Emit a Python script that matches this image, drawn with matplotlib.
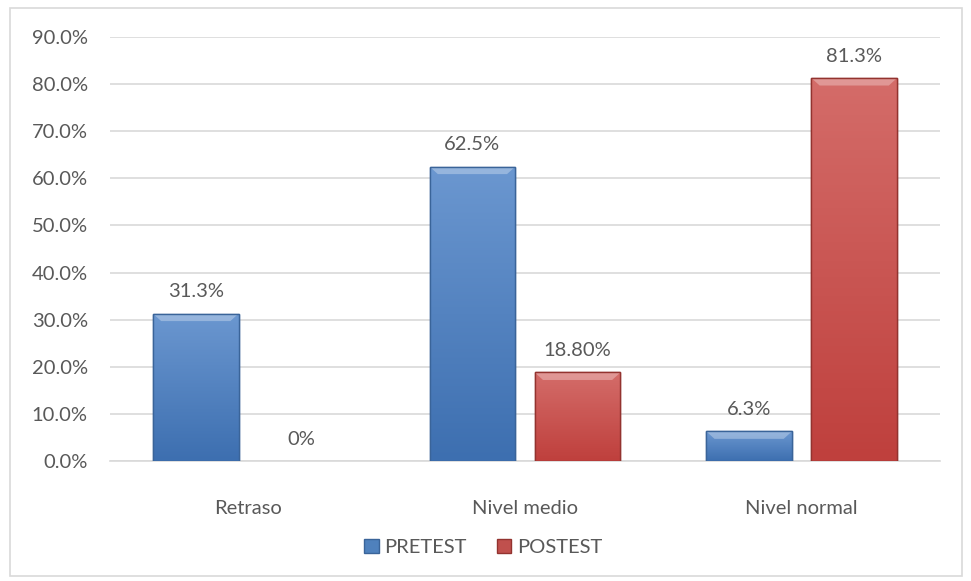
import numpy as np
import matplotlib.pyplot as plt
from matplotlib.colors import LinearSegmentedColormap
from matplotlib.patches import Rectangle

plt.rcParams['font.family'] = ['Lato', 'DejaVu Sans']

categories = ['Retraso', 'Nivel medio', 'Nivel normal']
pretest = [31.3, 62.5, 6.3]
postest = [0.0, 18.8, 81.3]
pretest_labels = ['31.3%', '62.5%', '6.3%']
postest_labels = ['0%', '18.80%', '81.3%']
yticks = np.arange(0, 91, 10)

text_col = '#595959'
grid_col = '#D9D9D9'
fs = 14.5

fig = plt.figure(figsize=(9.71, 5.81), dpi=100)
fig.patches.append(Rectangle((10 / 971, 5 / 581), 952 / 971, 568 / 581, transform=fig.transFigure,
                             fill=False, edgecolor='#D9D9D9', linewidth=1.2))
ax = fig.add_axes([110 / 971, 1 - 461 / 581, 830 / 971, 424 / 581])

x = np.arange(len(categories))
w = 0.31
off = 0.19


def shaded(bars, top, bottom, edge):
    cmap = LinearSegmentedColormap.from_list('g', [bottom, top])
    for b in bars:
        b.set_edgecolor(edge)
        b.set_linewidth(1.0)
        h = b.get_height()
        if h <= 0:
            b.set_linewidth(0)
            continue
        x0 = b.get_x()
        bw = b.get_width()
        grad = np.linspace(0, 1, 100).reshape(-1, 1)
        im = ax.imshow(grad, extent=(x0, x0 + bw, 0, h), origin='lower', cmap=cmap,
                       aspect='auto', zorder=b.get_zorder() + 0.1)
        im.set_clip_path(b)
        # bevel highlight on top edge
        bev = 1.6
        ax.fill([x0, x0 + bw, x0 + bw - 0.03, x0 + 0.03], [h, h, h - bev, h - bev],
                color='white', alpha=0.3, lw=0, zorder=b.get_zorder() + 0.2)
        ax.bar(x0 + bw / 2, h, bw, fill=False, edgecolor=edge, linewidth=1.0,
               zorder=b.get_zorder() + 0.3)


b1 = ax.bar(x - off, pretest, w, color='#4F81BD', label='PRETEST', zorder=3)
b2 = ax.bar(x + off, postest, w, color='#C0504D', label='POSTEST', zorder=3)
shaded(b1, '#6B97D0', '#3D6FB0', '#3A6499')
shaded(b2, '#D46C69', '#BF403D', '#93332F')

for xi, v, t in zip(x - off, pretest, pretest_labels):
    ax.text(xi, v + 2.8, t, ha='center', va='bottom', fontsize=fs, color=text_col)
for xi, v, t in zip(x + off, postest, postest_labels):
    ax.text(xi, v + 2.8, t, ha='center', va='bottom', fontsize=fs, color=text_col)

ax.set_xlim(-0.5, 2.5)
ax.set_ylim(0, 90)
ax.set_yticks(yticks)
ax.set_yticklabels(['%.1f%%' % v for v in yticks])
ax.set_xticks(x)
ax.set_xticklabels(categories)
ax.tick_params(axis='both', length=0, labelsize=fs, colors=text_col)
ax.tick_params(axis='y', pad=16)
ax.tick_params(axis='x', pad=28)
ax.yaxis.grid(True, color=grid_col, linewidth=1.2)
ax.set_axisbelow(True)
for s in ['top', 'right', 'left']:
    ax.spines[s].set_visible(False)
ax.spines['bottom'].set_color(grid_col)
ax.spines['bottom'].set_linewidth(1.2)

handles = [Rectangle((0, 0), 1, 1, facecolor='#4F81BD', edgecolor='#3A6499'),
           Rectangle((0, 0), 1, 1, facecolor='#C0504D', edgecolor='#93332F')]
leg = ax.legend(handles=handles, labels=['PRETEST', 'POSTEST'], loc='center',
                bbox_to_anchor=(0.45, -0.205), ncol=2, frameon=False,
                fontsize=fs, handlelength=0.7, handleheight=0.7, handletextpad=0.3, columnspacing=1.5)
for t in leg.get_texts():
    t.set_color(text_col)

fig.savefig('out.png', dpi=100)
